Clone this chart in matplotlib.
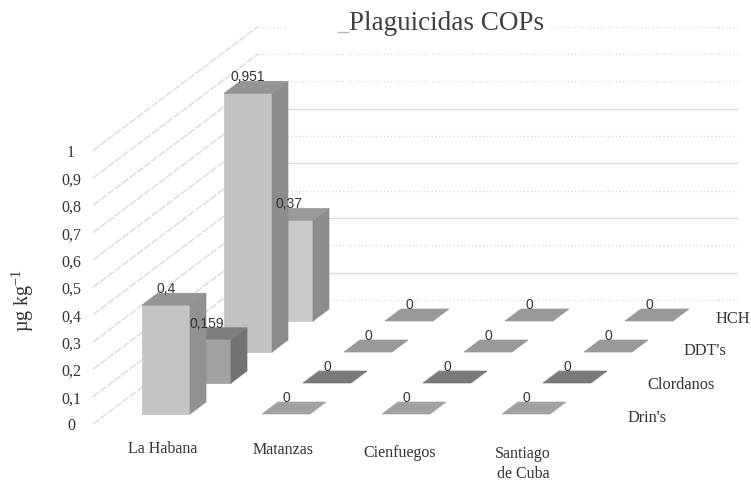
import matplotlib
matplotlib.use('Agg')
import matplotlib.pyplot as plt
from matplotlib.patches import Polygon, Rectangle

plt.rcParams['font.family'] = ['Liberation Serif', 'DejaVu Serif']
plt.rcParams['mathtext.default'] = 'regular'

# chart data
cities = ["La Habana", "Matanzas", "Cienfuegos", "Santiago\nde Cuba"]
groups = ["Drin's", "Clordanos", "DDT's", "HCH"]
drin = [0.4, 0, 0, 0]
clordanos = [0.159, 0, 0, 0]
ddt = [0.951, 0, 0, 0]
hch = [0.37, 0, 0, 0]
y_ticks = [0, 0.1, 0.2, 0.3, 0.4, 0.5, 0.6, 0.7, 0.8, 0.9, 1]

series = [drin, clordanos, ddt, hch]

# fake 3d projection, all in picture pixels
X0, Y0 = 142, 415      # front left foot of first bar
CAT_STEP = 120
SER_DX, SER_DY = 41, -31
BAR_W = 48
DEPTH_DX, DEPTH_DY = 16, -12
UNIT = 272             # pixels for value 1

# (front, side, top) grey for each series
shades = [(0.77, 0.57, 0.58), (0.63, 0.45, 0.49), (0.76, 0.55, 0.58), (0.79, 0.55, 0.60)]
flat_shades = [0.63, 0.48, 0.60, 0.60]
txt_col = '#333333'
grid_col = '#dcdcdc'

fig = plt.figure(figsize=(7.51, 4.81), dpi=100)
ax = fig.add_axes([0, 0, 1, 1])
ax.set_xlim(0, 751)
ax.set_ylim(481, 0)
ax.axis('off')

# walls
wall_left, wall_right = 258, 737
floor_front, floor_back = 425, 301
side_x = 93
styles = [':', '-', ':', '-', ':', '-', ':', '-', ':', ':', ':']
for i, v in enumerate(y_ticks):
    yf = floor_front - v * UNIT * 1.005
    yb = floor_back - v * UNIT * 1.005
    ax.plot([side_x, wall_left], [yf, yb], color=grid_col, lw=1.1, ls=(0, (5, 1)), zorder=1)
    ax.plot([wall_left, wall_right], [yb, yb], color=grid_col, lw=1.0, ls=styles[i], zorder=1)
    ax.text(71, yf + 1.5, str(v).replace('.', ','), ha='center', va='center',
            fontsize=11.5, color=txt_col)


def bar(c, s, v):
    x = X0 + c * CAT_STEP + s * SER_DX
    yb = Y0 + s * SER_DY
    yt = yb - v * UNIT
    z = 5 + (3 - s) * 10 + c
    if v == 0:
        g = str(flat_shades[s])
        pts = [(x, yb), (x + BAR_W, yb), (x + BAR_W + DEPTH_DX, yb + DEPTH_DY), (x + DEPTH_DX, yb + DEPTH_DY)]
        ax.add_patch(Polygon(pts, fc=g, ec=g, lw=0.5, zorder=z))
    else:
        front, side, top = shades[s]
        ax.add_patch(Polygon([(x, yb), (x + BAR_W, yb), (x + BAR_W, yt), (x, yt)],
                             fc=str(front), ec=str(front), lw=0.5, zorder=z))
        ax.add_patch(Polygon([(x + BAR_W, yb), (x + BAR_W + DEPTH_DX, yb + DEPTH_DY),
                              (x + BAR_W + DEPTH_DX, yt + DEPTH_DY), (x + BAR_W, yt)],
                             fc=str(side), ec=str(side), lw=0.5, zorder=z))
        ax.add_patch(Polygon([(x, yt), (x + BAR_W, yt), (x + BAR_W + DEPTH_DX, yt + DEPTH_DY),
                              (x + DEPTH_DX, yt + DEPTH_DY)],
                             fc=str(top), ec=str(top), lw=0.5, zorder=z))
    label = str(v).replace('.', ',')
    ax.text(x + BAR_W / 2, yt - 17, label, ha='center', va='center', fontsize=10,
            family='Liberation Sans', color='#333333', zorder=60)


for s in range(3, -1, -1):
    for c in range(len(cities)):
        bar(c, s, series[s][c])

# title, white patch hides the top grid line behind it
ax.add_patch(Rectangle((288, 14), 260, 20, fc='white', ec='none', zorder=2))
ax.text(447, 23, "Plaguicidas COPs", ha='center', va='center', fontsize=19.5, color='#404040', zorder=70)
ax.plot([338, 348], [33, 33], color='#b5b5b5', lw=1, zorder=71)

ax.text(23, 300, "µg kg$^{-1}$", rotation=90, ha='center', va='center', fontsize=14.5, color=txt_col)

# category labels
city_x = [163, 283, 400, 523]
city_y = [449, 450, 453, 464]
for name, x, y in zip(cities, city_x, city_y):
    ax.text(x, y, name, ha='center', va='center', fontsize=11.5, color=txt_col, linespacing=1.3)

# series labels
group_x = [628, 647, 683, 716]
group_y = [418, 385, 351, 319]
for name, x, y in zip(groups, group_x, group_y):
    ax.text(x, y, name, ha='left', va='center', fontsize=11.8, color=txt_col)

fig.savefig('out.png', dpi=100)
